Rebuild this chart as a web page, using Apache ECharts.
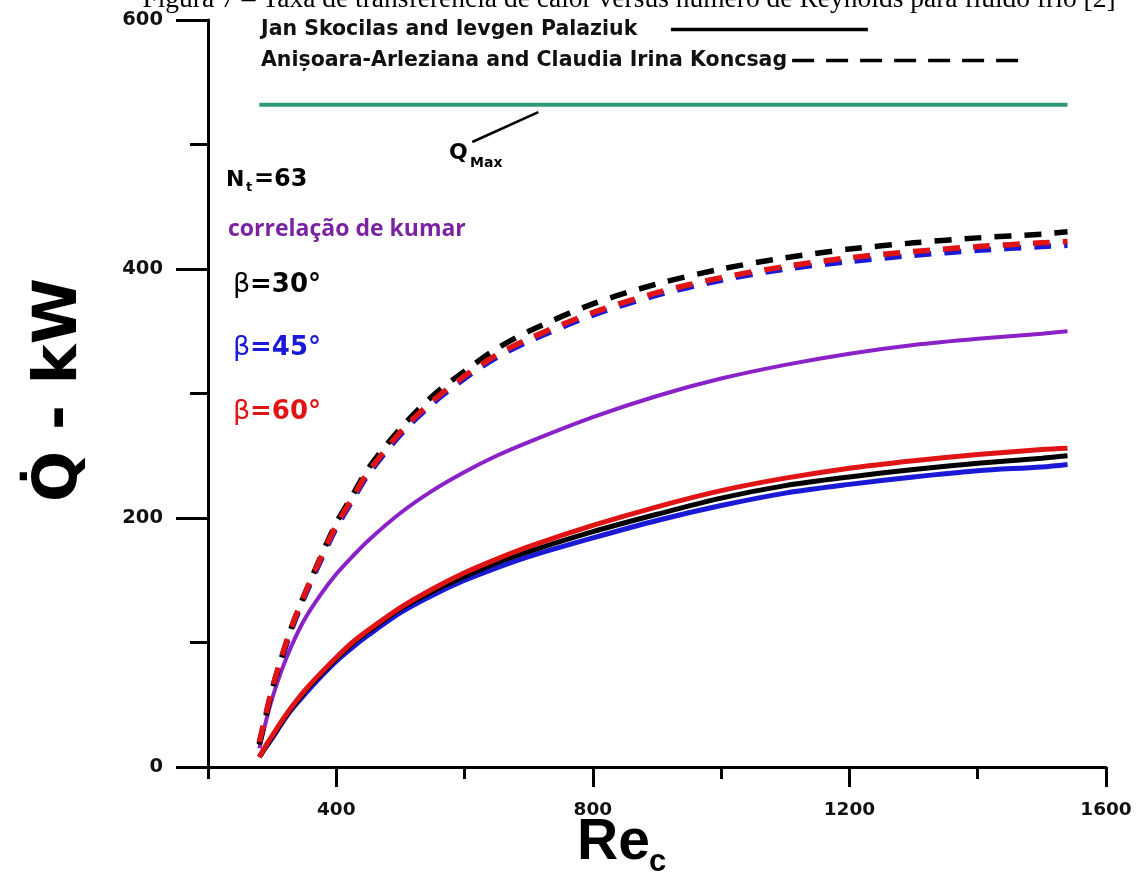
<!DOCTYPE html>
<html>
<head>
<meta charset="utf-8">
<script src="https://cdn.jsdelivr.net/npm/echarts@6/dist/echarts.min.js"></script>
<style>
  html, body { margin: 0; padding: 0; background: #ffffff; }
  #chart { width: 1145px; height: 882px; }
</style>
</head>
<body>
<div id="chart"></div>
<script>
// Reynolds number of the cold stream (x values shared by every curve)
const reynolds = [280, 290, 300, 315, 330, 350, 375, 400, 425, 450, 500, 550, 600, 650, 700, 800, 900, 1000, 1100, 1200, 1300, 1400, 1500, 1540];

// Heat duty, kW — Koncsag correlation (dashed)
const koncsag30 = [18, 40, 62, 88, 112, 138, 168, 196, 218, 240, 272, 298, 318, 336, 350, 372, 388, 400, 409, 416, 421, 425, 428, 430];
const koncsag45 = [19, 41, 62, 87, 110, 136, 165, 192, 214, 235, 267, 292, 312, 329, 342, 363, 379, 391, 400, 406, 411, 415, 418, 419];
const koncsag60 = [20, 42, 63, 89, 112, 138, 167, 194, 216, 237, 269, 294, 314, 331, 344, 365, 381, 393, 402, 409, 414, 418, 421, 422];

// Heat duty, kW — Skocilas correlation (solid)
const skocilas30 = [8, 16, 24, 36, 47, 60, 74, 87, 99, 109, 127, 141, 153, 164, 173, 189, 203, 216, 226, 233, 239, 244, 248, 250];
const skocilas45 = [8, 16, 23, 35, 46, 58, 72, 85, 96, 106, 124, 138, 150, 160, 169, 184, 198, 210, 220, 227, 233, 238, 241, 243];
const skocilas60 = [8, 17, 25, 37, 48, 61, 75, 88, 100, 110, 128, 143, 156, 167, 177, 194, 209, 222, 232, 240, 246, 251, 255, 256];

// Heat duty, kW — Kumar correlation
const kumar = [15, 36, 55, 78, 97, 118, 138, 155, 169, 182, 204, 222, 237, 250, 261, 281, 298, 312, 323, 332, 339, 344, 348, 350];

// Maximum possible heat duty and its pointer
const qMax = 532;
const qMaxRange = [280, 1540];
const qMaxPointer = [[715, 526], [612, 502]];

// Axis ticks
const xMajorTicks = [400, 800, 1200, 1600];
const xMinorTicks = [200, 600, 1000, 1400];

const legendSolid = 'Jan Skocilas and Ievgen Palaziuk';
const legendDashed = 'Anișoara-Arleziana and Claudia Irina Koncsag';

const BLACK = '#000000';
const BLUE = '#1a1ad6';
const RED = '#e01414';
const PURPLE = '#8a22c8';
const GREEN = '#2f9a72';
const FONT = '"DejaVu Sans", "Liberation Sans", Arial, sans-serif';
const ARIAL = '"Liberation Sans", Arial, sans-serif';

function pairs(ys) { return reynolds.map((x, i) => [x, ys[i]]); }

function curve(name, ys, color, width, dash) {
  return {
    name: name,
    type: 'line',
    data: pairs(ys),
    symbol: 'none',
    smooth: 0.3,
    lineStyle: { color: color, width: width, type: dash || 'solid', cap: 'butt' },
    itemStyle: { color: color },
    emphasis: { disabled: true },
    silent: true
  };
}

function label(text, x, y, size, color, weight, family, extra) {
  return Object.assign({
    type: 'text',
    x: x, y: y,
    style: {
      text: text,
      fontSize: size,
      fontWeight: weight || 'bold',
      fontFamily: family || FONT,
      fill: color || '#000',
      align: 'left', textAlign: 'left',
      verticalAlign: 'middle', textVerticalAlign: 'middle'
    }
  }, extra || {});
}

const chart = echarts.init(document.getElementById('chart'), null, { renderer: 'canvas' });

const legendText = { fontFamily: FONT, fontWeight: 'bold', fontSize: 20.5, color: '#111' };

const option = {
  backgroundColor: '#ffffff',
  animation: false,
  grid: { left: 208, right: 39, top: 20, bottom: 115 },
  legend: [
    {
      data: [legendSolid],
      left: 256, top: 14,
      align: 'right',
      itemWidth: 197, itemHeight: 14,
      selectedMode: false,
      itemStyle: { opacity: 0 },
      lineStyle: { width: 3.5 },
      formatter: name => name + '    ',
      textStyle: legendText
    },
    {
      data: [legendDashed],
      left: 256, top: 45,
      align: 'right',
      itemWidth: 230, itemHeight: 14,
      selectedMode: false,
      itemStyle: { opacity: 0 },
      lineStyle: { width: 3.5, type: [22, 12] },
      textStyle: legendText
    }
  ],
  xAxis: [
    {
      type: 'value', min: 200, max: 1600, position: 'bottom',
      axisLine: { show: true, onZero: false, lineStyle: { color: '#000', width: 3 } },
      axisTick: { show: true, customValues: xMajorTicks, length: 20, lineStyle: { color: '#000', width: 3 } },
      axisLabel: {
        customValues: xMajorTicks, margin: 34, formatter: v => String(v),
        fontFamily: FONT, fontWeight: 'bold', fontSize: 18.5, color: '#111'
      },
      splitLine: { show: false }
    },
    {
      type: 'value', min: 200, max: 1600, position: 'bottom',
      axisLine: { show: false, onZero: false },
      axisTick: { show: true, customValues: xMinorTicks, length: 12, lineStyle: { color: '#000', width: 3 } },
      axisLabel: { show: false },
      splitLine: { show: false }
    }
  ],
  yAxis: {
    type: 'value', min: 0, max: 600, interval: 200,
    axisLine: { show: true, onZero: false, lineStyle: { color: '#000', width: 3 } },
    axisTick: { show: true, length: 32, lineStyle: { color: '#000', width: 3 } },
    minorTick: { show: true, splitNumber: 2, length: 18, lineStyle: { color: '#000', width: 3 } },
    axisLabel: { margin: 45, formatter: v => String(v), fontFamily: FONT, fontWeight: 'bold', fontSize: 19.5, color: '#111' },
    splitLine: { show: false },
    minorSplitLine: { show: false }
  },
  series: [
    curve('correlação de kumar', kumar, PURPLE, 4),
    {
      name: 'QMax', type: 'line', symbol: 'none', silent: true,
      data: qMaxRange.map(x => [x, qMax]),
      lineStyle: { color: GREEN, width: 4 }
    },
    curve('β=45° (Skocilas)', skocilas45, BLUE, 5),
    curve(legendSolid, skocilas30, BLACK, 5),
    curve('β=60° (Skocilas)', skocilas60, RED, 5),
    curve('β=45° (Koncsag)', koncsag45, BLUE, 5.5, [17, 13]),
    curve(legendDashed, koncsag30, BLACK, 5.5, [17, 13]),
    curve('β=60° (Koncsag)', koncsag60, RED, 5.5, [17, 13]),
    {
      name: 'QMax pointer', type: 'line', symbol: 'none', silent: true,
      data: qMaxPointer,
      lineStyle: { color: '#000', width: 2.5 }
    }
  ],
  graphic: [
    // caption above the plot
    {
      type: 'text', x: 629, y: 14,
      style: {
        text: 'Figura 7 – Taxa de transferência de calor versus número de Reynolds para fluido frio [2]',
        fontSize: 27.5, fontFamily: '"Liberation Serif", "Times New Roman", serif', fill: '#000',
        align: 'center', textAlign: 'center', verticalAlign: 'bottom', textVerticalAlign: 'bottom'
      }
    },
    // axis titles
    {
      type: 'text', x: 60, y: 390, rotation: Math.PI / 2,
      style: {
        text: 'Q\u0307 - kW', fontSize: 60, fontWeight: 'bold', fontFamily: FONT, fill: '#000',
        align: 'center', textAlign: 'center', verticalAlign: 'middle', textVerticalAlign: 'middle'
      }
    },
    label('Re', 577, 843, 57, '#000', 'bold', ARIAL),
    label('c', 649, 862, 31, '#000', 'bold', ARIAL),
    // QMax annotation
    label('Q', 449, 153, 22, '#000'),
    label('Max', 470, 163, 14, '#000'),
    // tube count
    label('N', 226, 180, 22, '#000'),
    label('t', 246, 188, 13, '#000'),
    label('=63', 254, 180, 24, '#000'),
    // curve notes
    label('correlação de kumar', 228, 229, 23, '#7a22a0', 'bold', '"Open Sans", "Noto Sans", sans-serif'),
    label('β', 233, 285, 27, '#000', 'normal'),
    label('=30°', 250, 285, 26, '#000'),
    label('β', 233, 348, 27, BLUE, 'normal'),
    label('=45°', 250, 348, 26, BLUE),
    label('β', 233, 412, 27, RED, 'normal'),
    label('=60°', 250, 412, 26, RED)
  ]
};

chart.setOption(option);
</script>
</body>
</html>
